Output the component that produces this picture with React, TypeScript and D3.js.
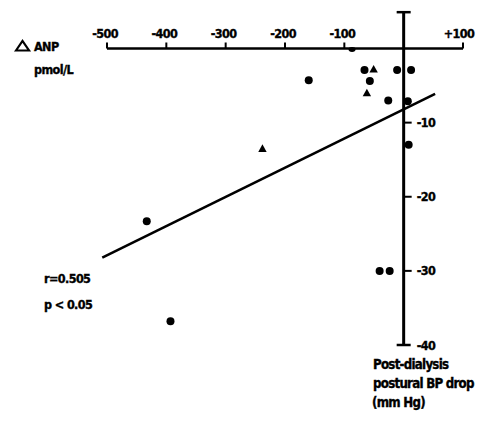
import React from "react";
import * as d3 from "d3";

const xTicks = [-500, -400, -300, -200, -100, 0, 100];
const xTickLabels = ["-500", "-400", "-300", "-200", "-100", "", "+100"];
const yTicks = [-10, -20, -30, -40];
const yTickLabels = ["-10", "-20", "-30", "-40"];

// Post-dialysis postural BP drop (x) vs delta ANP (y)
const circleX = [-160, -66, -57, -26, -11, 12.5, 7, 8.4, -433, -393, -40.5, -23.6];
const circleY = [-4.3, -2.9, -4.4, -7.0, -2.9, -2.9, -7.1, -13.0, -23.3, -36.8, -30, -30];
const triangleX = [-50.6, -62, -238];
const triangleY = [-2.8, -6.0, -13.5];
const axisBlobX = [-87];
const axisBlobY = [0];

const regSlope = 0.0394;
const regIntercept = -8.2;
const regRange = [-508, 53];

const W = 481;
const H = 421;
const FONT = "'DejaVu Sans Condensed', 'DejaVu Sans', sans-serif";

export default function App() {
  const x = d3.scaleLinear().domain([-500, 100]).range([107, 463]);
  const y = d3.scaleLinear().domain([0, -40]).range([48.5, 345]);
  const x0 = x(0);
  const y0 = y(0);
  const yTop = y(4.9);

  const circles = circleX.map((cx, i) => ({ cx, cy: circleY[i] }));
  const tris = triangleX.map((tx, i) => ({ tx, ty: triangleY[i] }));
  const line = d3
    .line<number>()
    .x((d) => x(d))
    .y((d) => y(regIntercept + regSlope * d));

  const triPath = (px: number, py: number) => {
    const s = 4.2;
    return `M${px},${py - s}L${px + s},${py + s * 0.8}L${px - s},${py + s * 0.8}Z`;
  };

  const textStyle: React.CSSProperties = {
    fontFamily: FONT,
    fontWeight: "bold",
    fontSize: 12.5,
    letterSpacing: -0.6,
    stroke: "#000",
    strokeWidth: 0.35,
  };
  const titleStyle: React.CSSProperties = { ...textStyle, fontSize: 13.2, letterSpacing: -0.75 };

  return (
    <svg
      width={W}
      height={H}
      style={{ position: "absolute", left: 0, top: 0, background: "#fff" }}
    >
      {/* X axis */}
      <line x1={x(-500)} x2={x(100)} y1={y0} y2={y0} stroke="#000" strokeWidth={2.5} />
      {xTicks.map((t, i) => (
        <g key={t}>
          {t !== 0 && (
            <line x1={x(t)} x2={x(t)} y1={y0} y2={y0 - 6} stroke="#000" strokeWidth={2} />
          )}
          {xTickLabels[i] && (
            <text
              x={x(t) - (t === 100 ? 4 : 2)}
              y={38}
              textAnchor="middle"
              style={textStyle}
            >
              {xTickLabels[i]}
            </text>
          )}
        </g>
      ))}

      {/* Y axis */}
      <line x1={x0} x2={x0} y1={yTop} y2={y(-40)} stroke="#000" strokeWidth={3} />
      <line x1={x0 - 7} x2={x0 + 7} y1={yTop} y2={yTop} stroke="#000" strokeWidth={2.5} />
      <line x1={x0 - 7} x2={x0 + 7} y1={y(-40)} y2={y(-40)} stroke="#000" strokeWidth={2.5} />
      {yTicks.map((t, i) => (
        <g key={t}>
          {t !== -40 && (
            <line x1={x0} x2={x0 + 8} y1={y(t)} y2={y(t)} stroke="#000" strokeWidth={2} />
          )}
          <text x={x0 + 13} y={y(t) + 4.5} style={textStyle}>
            {yTickLabels[i]}
          </text>
        </g>
      ))}

      {/* Regression line */}
      <path d={line(regRange) || ""} stroke="#000" strokeWidth={2.6} fill="none" />

      {/* Points */}
      {circles.map((c, i) => (
        <circle key={"c" + i} cx={x(c.cx)} cy={y(c.cy)} r={4} fill="#000" />
      ))}
      {axisBlobX.map((bx, i) => (
        <ellipse key={"b" + i} cx={x(bx)} cy={y(axisBlobY[i]) + 1} rx={3.5} ry={2.4} fill="#000" />
      ))}
      {tris.map((t, i) => (
        <path key={"t" + i} d={triPath(x(t.tx), y(t.ty))} fill="#000" />
      ))}

      {/* Y axis title */}
      <path d="M16,50.5L22.5,41L29,50.5Z" fill="none" stroke="#000" strokeWidth={2.2} />
      <text x={34} y={51} style={textStyle}>
        ANP
      </text>
      <text x={34} y={74} style={textStyle}>
        pmol/L
      </text>

      {/* Stats */}
      <text x={44} y={283} style={textStyle}>
        r=0.505
      </text>
      <text x={44} y={309} style={textStyle}>
        p &lt; 0.05
      </text>

      {/* X axis title */}
      <text x={373} y={369} style={titleStyle}>
        Post-dialysis
      </text>
      <text x={373} y={388} style={titleStyle}>
        postural BP drop
      </text>
      <text x={372} y={407} style={titleStyle}>
        (mm Hg)
      </text>
    </svg>
  );
}
